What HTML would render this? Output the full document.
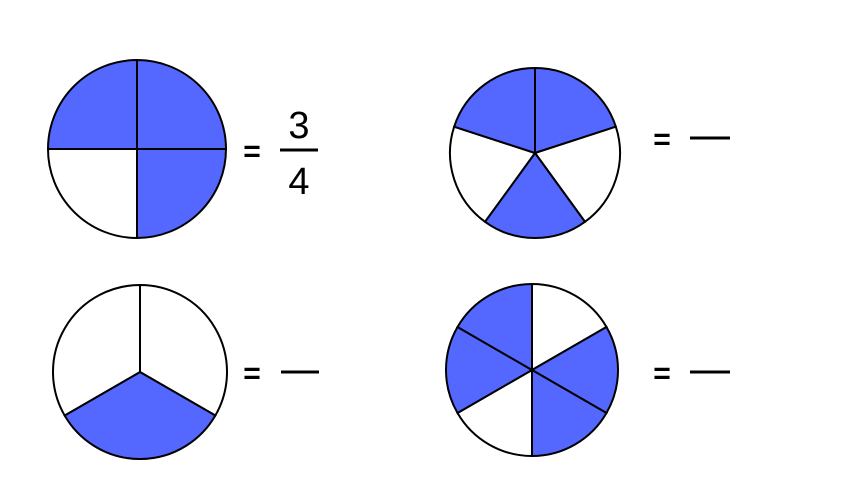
<!DOCTYPE html>
<html><head><meta charset="utf-8"><style>
html,body{margin:0;padding:0;background:#fff;}
svg{display:block;font-family:"Liberation Sans",sans-serif;}
</style></head><body>
<svg id="s" width="854" height="480" viewBox="0 0 854 480">
<g>
<text x="252" y="161" font-size="30" font-weight="bold" text-anchor="middle">=</text>
<text x="299" y="138" font-size="38" text-anchor="middle">3</text>
<line x1="280" y1="150" x2="318" y2="150" stroke="#000" stroke-width="3"/>
<text x="299" y="194" font-size="38" text-anchor="middle">4</text>
</g>
<text x="662" y="149" font-size="30" font-weight="bold" text-anchor="middle">=</text>
<line x1="690" y1="138" x2="730" y2="138" stroke="#000" stroke-width="3"/>
<text x="252" y="383" font-size="30" font-weight="bold" text-anchor="middle">=</text>
<line x1="281" y1="372" x2="319" y2="372" stroke="#000" stroke-width="3"/>
<text x="662" y="383" font-size="30" font-weight="bold" text-anchor="middle">=</text>
<line x1="690" y1="372" x2="730" y2="372" stroke="#000" stroke-width="3"/>
</svg>
<script>
// slice fill states (1 = shaded), clockwise from top
const circle1 = [1,1,0,1];
const circle2 = [1,0,1,0,1];
const circle3 = [0,1,0];
const circle4 = [0,1,1,0,1,1];
const circles = [
 {fills:circle1, cx:137, cy:149, r:89, start:0, name:'circle-quarters'},
 {fills:circle2, cx:535, cy:153, r:85, start:0, name:'circle-fifths'},
 {fills:circle3, cx:140, cy:372, r:87, start:0, name:'circle-thirds'},
 {fills:circle4, cx:532, cy:370, r:86, start:0, name:'circle-sixths'}
];
const svg=document.getElementById('s'), NS='http://www.w3.org/2000/svg';
function pt(c,a){const t=(a-90)*Math.PI/180;return [c.cx+c.r*Math.cos(t),c.cy+c.r*Math.sin(t)];}
circles.forEach(c=>{
 const g=document.createElementNS(NS,'g');
 
 
 const n=c.fills.length, step=360/n;
 c.fills.forEach((f,i)=>{
  const a0=c.start+i*step,a1=a0+step,p0=pt(c,a0),p1=pt(c,a1);
  const p=document.createElementNS(NS,'path');
  p.setAttribute('d',`M${c.cx},${c.cy} L${p0[0]},${p0[1]} A${c.r},${c.r} 0 ${step>180?1:0} 1 ${p1[0]},${p1[1]} Z`);
  p.setAttribute('fill',f?'#5468ff':'#fff');
  p.setAttribute('stroke','#000');
  p.setAttribute('stroke-width','2');
  
  
  g.appendChild(p);
 });
 svg.appendChild(g);
});
</script>
</body></html>
